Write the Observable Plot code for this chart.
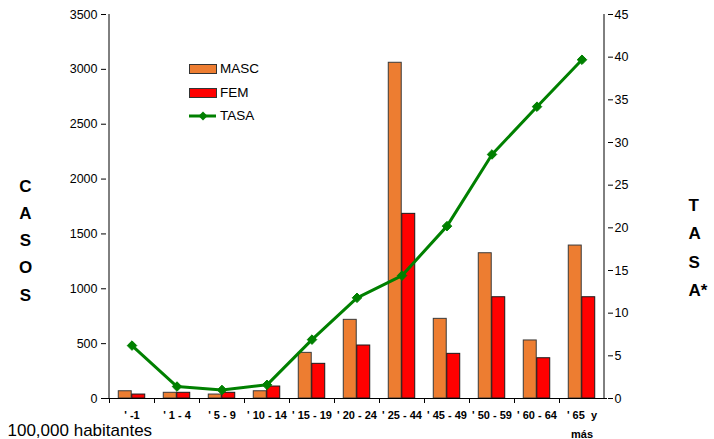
<!DOCTYPE html>
<html>
<head>
<meta charset="utf-8">
<script src="https://cdn.jsdelivr.net/npm/d3@7"></script>
<script src="https://cdn.jsdelivr.net/npm/@observablehq/plot@0.6"></script>
<style>
  html, body { margin: 0; padding: 0; background: #fff; }
  #wrap { position: relative; width: 714px; height: 439px; overflow: hidden; font-family: "Liberation Sans", Arial, sans-serif; }
  .leg { position: absolute; font-size: 13.5px; color: #000; line-height: 1; }
  .sw { position: absolute; }
</style>
</head>
<body>
<div id="wrap"></div>
<script>
const categories = ["' -1", "' 1 - 4", "' 5 - 9", "' 10 - 14", "' 15 - 19", "' 20 - 24", "' 25 - 44", "' 45 - 49", "' 50 - 59", "' 60 - 64", "' 65  y\nmás"];
const masc = [66, 52, 36, 66, 416, 717, 3060, 726, 1324, 529, 1394];
const fem = [36, 52, 52, 109, 316, 483, 1683, 407, 923, 367, 923];
const tasa = [6.2, 1.4, 1.0, 1.6, 6.9, 11.8, 14.4, 20.2, 28.6, 34.2, 39.7];
const casosTicks = [0, 500, 1000, 1500, 2000, 2500, 3000, 3500];
const tasaTicks = [0, 5, 10, 15, 20, 25, 30, 35, 40, 45];
const seriesNames = ["MASC", "FEM", "TASA"];
const colors = {MASC: "#ED7D31", FEM: "#FF0000", TASA: "#008000"};

const casosMax = 3500, tasaMax = 45;
const k = casosMax / tasaMax;
const rows = categories.map((c, i) => ({cat: c, masc: masc[i], fem: fem[i], tasa: tasa[i]}));

const W = 714, H = 439, mL = 106, mR = 107, mT = 14, mB = 41;
const bw = (W - mL - mR) / categories.length;
const barW = 13.5;

function axisLines(index, {x, y}) {
  const g = d3.create("svg:g").attr("stroke", "#000").attr("stroke-width", 1);
  const x0 = x(categories[0]);
  const x1 = x(categories[categories.length - 1]) + x.bandwidth();
  g.append("line").attr("x1", x0).attr("x2", x0).attr("y1", y(0) + 0.5).attr("y2", y(casosMax));
  g.append("line").attr("x1", x1).attr("x2", x1).attr("y1", y(0) + 0.5).attr("y2", y(casosMax));
  categories.forEach(c => {
    const xx = Math.round(x(c)) + 0.5;
    g.append("line").attr("x1", xx).attr("x2", xx).attr("y1", y(0)).attr("y2", y(0) + 5);
  });
  return g.node();
}

const chart = Plot.plot({
  width: W, height: H,
  marginLeft: mL, marginRight: mR, marginTop: mT, marginBottom: mB,
  x: {type: "band", domain: categories, padding: 0, axis: null},
  y: {domain: [0, casosMax], axis: null},
  style: {fontFamily: "'Liberation Sans', Arial, sans-serif", fontSize: "12px", color: "#000", background: "transparent", overflow: "visible"},
  marks: [
    Plot.barY(rows, {x: "cat", y: "masc", fill: colors.MASC, stroke: "#3a3a3a", strokeWidth: 1,
      insetLeft: bw / 2 - barW, insetRight: bw / 2}),
    Plot.barY(rows, {x: "cat", y: "fem", fill: colors.FEM, stroke: "#1a1a1a", strokeWidth: 1,
      insetLeft: bw / 2, insetRight: bw / 2 - barW}),
    Plot.ruleY([0], {stroke: "#000"}),
    axisLines,
    Plot.line(rows, {x: "cat", y: d => d.tasa * k, stroke: colors.TASA, strokeWidth: 3}),
    Plot.dot(rows, {x: "cat", y: d => d.tasa * k, symbol: "diamond2", r: 4.3, fill: colors.TASA, stroke: colors.TASA, strokeWidth: 1}),
    Plot.axisY(casosTicks, {anchor: "left", tickSize: 5, tickPadding: 4, label: null, fontSize: 12.5,
      tickFormat: d => String(d)}),
    Plot.axisY(tasaTicks.map(t => t * k), {anchor: "right", tickSize: 5, tickPadding: 2, label: null, fontSize: 12.5,
      tickFormat: d => String(Math.round(d / k))}),
    Plot.text(rows, {x: "cat", text: "cat", frameAnchor: "bottom", dy: 8, lineAnchor: "top", lineHeight: 1.65,
      fontWeight: "bold", fontSize: 11, fill: "#000"}),
    Plot.text(["C\nA\nS\nO\nS"], {frameAnchor: "left", dx: -81, dy: 31, textAnchor: "middle", lineAnchor: "middle",
      lineHeight: 1.6, fontSize: 17, fontWeight: "bold", fill: "#000"}),
    Plot.text(["T\nA\nS\nA*"], {frameAnchor: "right", dx: 81, dy: 38, textAnchor: "start", lineAnchor: "middle",
      lineHeight: 1.65, fontSize: 17, fontWeight: "bold", fill: "#000"}),
    Plot.text(["100,000 habitantes"], {frameAnchor: "bottom-left", dx: -99, dy: 32, textAnchor: "start", lineAnchor: "middle",
      fontSize: 17, fill: "#000"})
  ]
});

const wrap = document.getElementById("wrap");
wrap.appendChild(chart);

// legend
const legendTops = [69, 93, 116];
seriesNames.forEach((name, i) => {
  const cy = legendTops[i];
  if (name === "TASA") {
    const s = document.createElementNS("http://www.w3.org/2000/svg", "svg");
    s.setAttribute("width", 28); s.setAttribute("height", 12);
    s.setAttribute("class", "sw");
    s.style.left = "189px"; s.style.top = (cy - 6) + "px";
    s.innerHTML = `<line x1="0" x2="27" y1="6" y2="6" stroke="${colors.TASA}" stroke-width="3"/>` +
      `<path d="M14,1.5L18.5,6L14,10.5L9.5,6Z" fill="${colors.TASA}"/>`;
    wrap.appendChild(s);
  } else {
    const d = document.createElement("div");
    d.className = "sw";
    d.style.cssText = `left:189px;top:${cy - 5}px;width:26px;height:8px;background:${colors[name]};border:1px solid #333;`;
    wrap.appendChild(d);
  }
  const t = document.createElement("div");
  t.className = "leg";
  t.textContent = name;
  t.style.left = "220px";
  t.style.top = (cy - 7) + "px";
  wrap.appendChild(t);
});
</script>
</body>
</html>
